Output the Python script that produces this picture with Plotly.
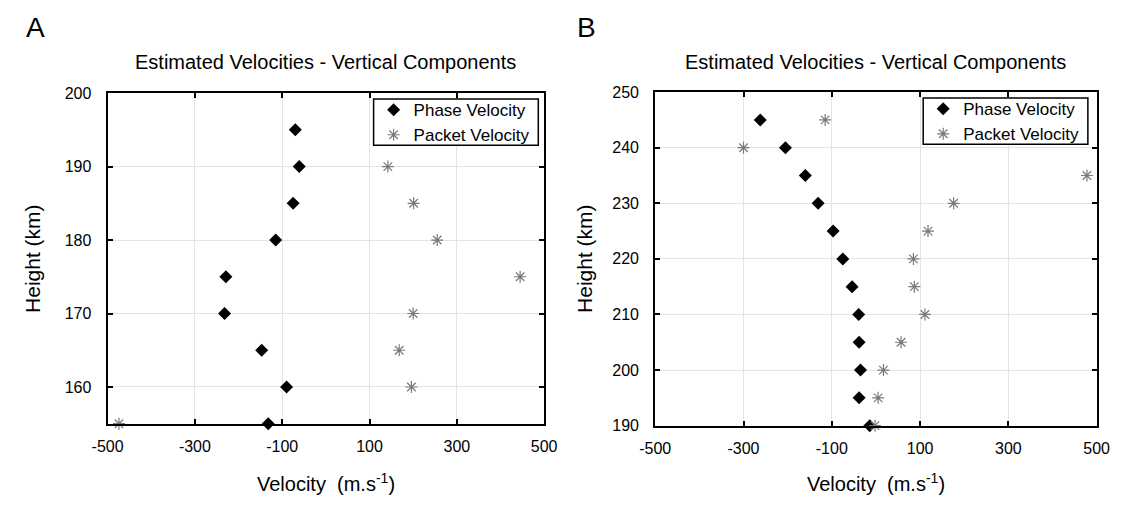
import plotly.graph_objects as go

W, H = 1134, 512

# ---- Data ----
heights_a_phase = [195, 190, 185, 180, 175, 170, 165, 160, 155]
phase_a = [-70, -61, -75, -115, -229, -232, -147, -90, -132]
heights_a_packet = [190, 185, 180, 175, 170, 165, 160, 155]
packet_a = [142, 201, 255, 445, 200, 168, 196, -474]

heights_b = [245, 240, 235, 230, 225, 220, 215, 210, 205, 200, 195, 190]
phase_b = [-262, -205, -160, -131, -97, -75, -54, -39, -38, -35, -38, -14]
packet_b = [-115, -300, 478, 176, 118, 85, 87, 111, 57, 17, 5, -2]

x_ticks = [-500, -300, -100, 100, 300, 500]
x_tick_labels = ["-500", "-300", "-100", "100", "300", "500"]
y_ticks_a = [160, 170, 180, 190, 200]
y_ticks_b = [190, 200, 210, 220, 230, 240, 250]

title_text = "Estimated Velocities - Vertical Components"
xlabel = "Velocity  (m.s<sup>-1</sup>)"
ylabel = "Height (km)"

FONT = "Liberation Sans, Arial, Helvetica, sans-serif"

# plot-area pixel boxes: x0, x1, ytop, ybottom
A_box = (94, 542, 88, 430)
B_box = (656, 1109, 87, 432)
# legend boxes: x0, x1, ytop, ybottom
A_leg = (367, 536, 94, 142)
B_leg = (931, 1100, 93, 141)


def xd(b):
    return [b[0] / W, b[1] / W]


def yd(b):
    return [(H - b[3]) / H, (H - b[2]) / H]


fig = go.Figure()

diamond = dict(symbol="diamond", size=10, color="black", line=dict(width=0))
aster = dict(symbol="asterisk-open", size=10, color="#7a7a7a",
             line=dict(width=1.2, color="#7a7a7a"))

fig.add_trace(go.Scatter(x=phase_a, y=heights_a_phase, mode="markers", marker=diamond,
                         name="Phase Velocity", xaxis="x", yaxis="y", legend="legend",
                         cliponaxis=False))
fig.add_trace(go.Scatter(x=packet_a, y=heights_a_packet, mode="markers", marker=aster,
                         name="Packet Velocity", xaxis="x", yaxis="y", legend="legend",
                         cliponaxis=False))
fig.add_trace(go.Scatter(x=phase_b, y=heights_b, mode="markers", marker=diamond,
                         name="Phase Velocity", xaxis="x2", yaxis="y2", legend="legend2",
                         cliponaxis=False))
fig.add_trace(go.Scatter(x=packet_b, y=heights_b, mode="markers", marker=aster,
                         name="Packet Velocity", xaxis="x2", yaxis="y2", legend="legend2",
                         cliponaxis=False))

axis_common = dict(showline=True, linecolor="black", linewidth=2, mirror="ticks",
                   ticks="inside", ticklen=5, tickwidth=2, tickcolor="black",
                   showgrid=True, gridcolor="#e4e4e4", gridwidth=1, zeroline=False,
                   tickfont=dict(family=FONT, size=16, color="black"))

legend_common = dict(xanchor="left", yanchor="top", bgcolor="rgba(0,0,0,0)",
                     borderwidth=0,
                     font=dict(family=FONT, size=17, color="black"),
                     tracegroupgap=0, itemwidth=30)

fig.update_layout(
    width=W, height=H,
    margin=dict(l=0, r=0, t=0, b=0),
    paper_bgcolor="white", plot_bgcolor="white",
    font=dict(family=FONT, color="black"),
    xaxis=dict(domain=xd(A_box), range=[-500, 500], tickvals=x_ticks, ticktext=x_tick_labels,
               anchor="y", ticklabelstandoff=7, **axis_common),
    yaxis=dict(domain=yd(A_box), range=[155, 200], tickvals=y_ticks_a, anchor="x",
               ticklabelstandoff=11, **axis_common),
    xaxis2=dict(domain=xd(B_box), range=[-500, 500], tickvals=x_ticks, ticktext=x_tick_labels,
                anchor="y2", ticklabelstandoff=7, **axis_common),
    yaxis2=dict(domain=yd(B_box), range=[190, 250], tickvals=y_ticks_b, anchor="x2",
                ticklabelstandoff=11, **axis_common),
    legend=dict(x=A_leg[0] / W, y=1 - (A_leg[2] - 7) / H, **legend_common),
    legend2=dict(x=B_leg[0] / W, y=1 - (B_leg[2] - 7) / H, **legend_common),
    showlegend=True,
)

# legend frames (white box with black border drawn behind the legend entries)
shapes = []
for lb in (A_leg, B_leg):
    shapes.append(dict(type="rect", xref="paper", yref="paper",
                       x0=lb[0] / W, x1=lb[1] / W, y0=1 - lb[3] / H, y1=1 - lb[2] / H,
                       fillcolor="white", line=dict(color="black", width=1.5),
                       layer="above"))
fig.update_layout(shapes=shapes)

ann = []
for letter, lx in (("A", 8), ("B", 574)):
    ann.append(dict(text=letter, x=lx / W, y=1 - 20 / H, xref="paper", yref="paper",
                    xanchor="left", yanchor="middle", showarrow=False,
                    font=dict(family=FONT, size=28, color="black")))
for box, yl_off in ((A_box, 77), (B_box, 72)):
    cx = (box[0] + box[1]) / 2 / W
    cy = 1 - (box[2] + box[3]) / 2 / H
    ann.append(dict(text=title_text, x=cx, y=1 - 56 / H, xref="paper", yref="paper",
                    xanchor="center", yanchor="middle", showarrow=False,
                    font=dict(family=FONT, size=20, color="black")))
    ann.append(dict(text=xlabel, x=cx, y=1 - 491 / H, xref="paper", yref="paper",
                    xanchor="center", yanchor="middle", showarrow=False,
                    font=dict(family=FONT, size=20, color="black")))
    ann.append(dict(text=ylabel, x=(box[0] - yl_off) / W, y=cy, xref="paper", yref="paper",
                    xanchor="center", yanchor="middle", showarrow=False, textangle=-90,
                    font=dict(family=FONT, size=21, color="black")))
fig.update_layout(annotations=ann)

fig.write_html("out.html")
